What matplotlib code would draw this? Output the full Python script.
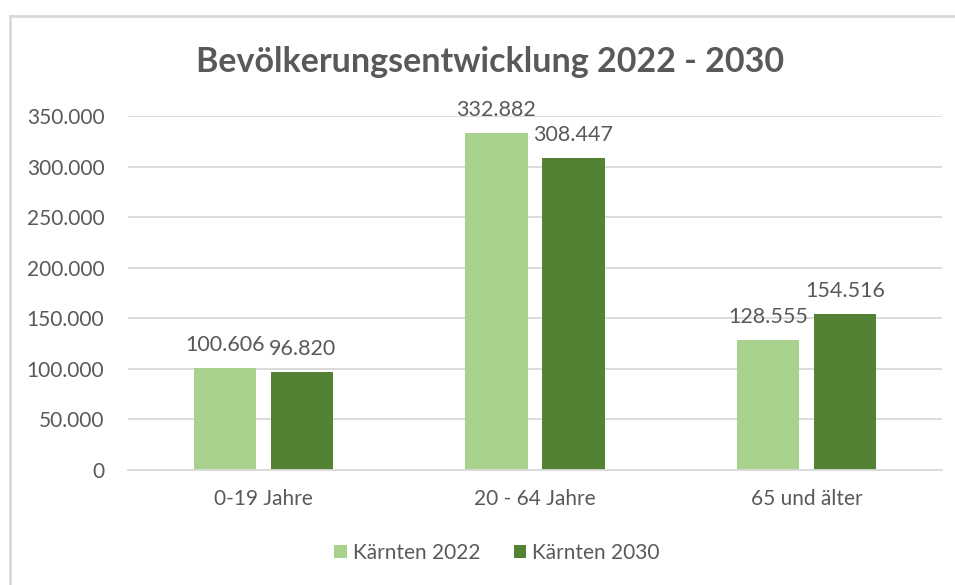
import matplotlib.pyplot as plt
from matplotlib.lines import Line2D
from matplotlib.ticker import FuncFormatter
import numpy as np

categories = ["0-19 Jahre", "20 - 64 Jahre", "65 und älter"]
series_names = ["Kärnten 2022", "Kärnten 2030"]
values_2022 = [100606, 332882, 128555]
values_2030 = [96820, 308447, 154516]

light = "#A9D18E"
dark = "#548235"
txt = "#595959"
grid = "#D9D9D9"

plt.rcParams['font.family'] = ['Lato', 'DejaVu Sans']

fig = plt.figure(figsize=(9.55, 5.85), dpi=100)
ax = fig.add_axes([128/955, 1-470/585, (942-128)/955, (470-116)/585])

x = np.arange(len(categories))
w = 0.23
off = 0.142
b1 = ax.bar(x - off, values_2022, w, color=light, label=series_names[0])
b2 = ax.bar(x + off, values_2030, w, color=dark, label=series_names[1])

def fmt(v, pos=None):
    return f"{int(v):,}".replace(",", ".")

for bars, vals in ((b1, values_2022), (b2, values_2030)):
    for r, v in zip(bars, vals):
        ax.text(r.get_x() + r.get_width()/2, v + 13000, fmt(v),
                ha="center", va="bottom", fontsize=15.5, color=txt)

ax.set_xlim(-0.5, 2.5)
ax.set_ylim(0, 350000)
ax.set_yticks(np.arange(0, 350001, 50000))
ax.yaxis.set_major_formatter(FuncFormatter(fmt))
ax.set_xticks(x)
ax.set_xticklabels(categories)
ax.tick_params(length=0, labelsize=15, colors=txt, pad=14)
ax.tick_params(axis="y", pad=17)
ax.grid(axis="y", color=grid, linewidth=1.3)
ax.set_axisbelow(True)
for s in ["top", "right", "left"]:
    ax.spines[s].set_visible(False)
ax.spines["bottom"].set_color(grid)
ax.spines["bottom"].set_linewidth(1.3)

fig.text(490/955, 1-62/585, "Bevölkerungsentwicklung 2022 - 2030",
         ha="center", va="center", fontsize=24.5, fontweight="bold", color=txt)

fig.legend(handles=[b1, b2], labels=series_names, loc="center",
           bbox_to_anchor=(497/955, 1-553/585), ncol=2, frameon=False,
           fontsize=15, labelcolor=txt, handlelength=0.6, handleheight=0.6,
           handletextpad=0.3, columnspacing=1.6)

# chart border (top and left visible)
fig.add_artist(Line2D([10/955, 1], [1-16/585, 1-16/585], color=grid, lw=2))
fig.add_artist(Line2D([10/955, 10/955], [0, 1-16/585], color=grid, lw=2))

fig.savefig("out.png", dpi=100)
